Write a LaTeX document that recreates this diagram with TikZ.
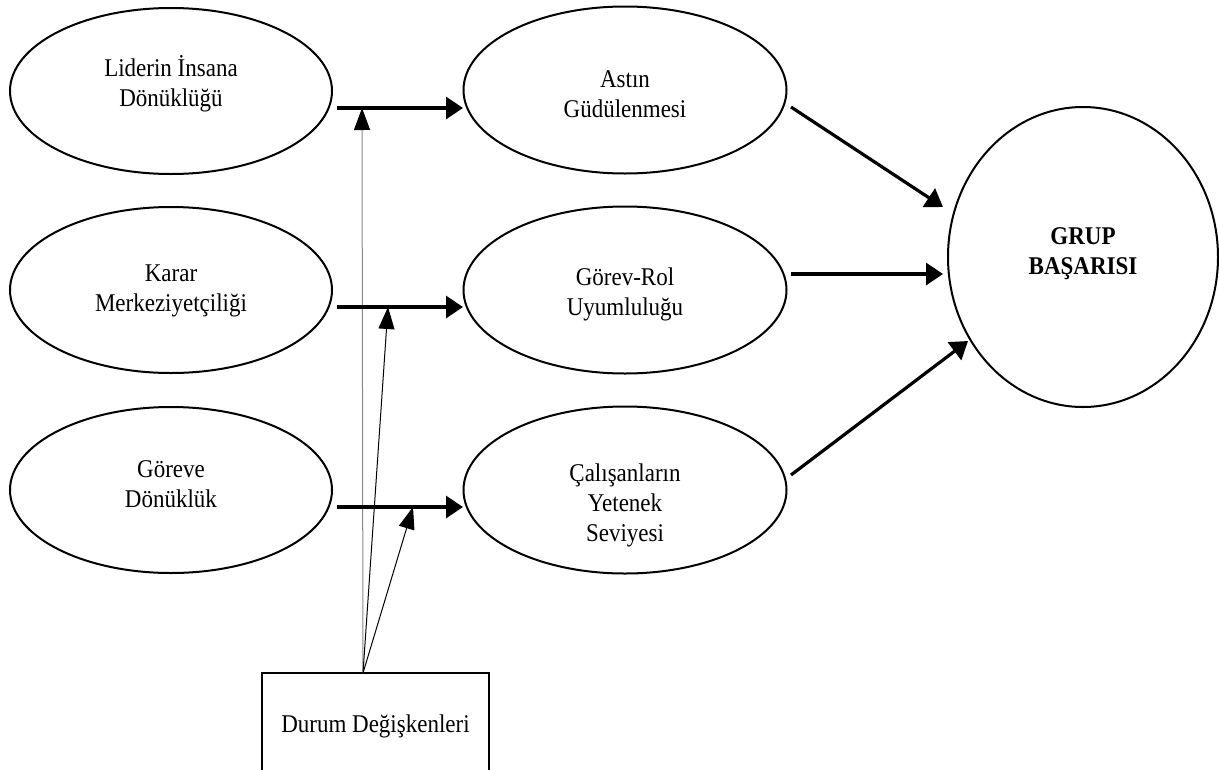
\documentclass[tikz,border=0pt]{standalone}
\usepackage{graphicx}
\usepackage{fontspec}
\setmainfont{Liberation Serif}
\usetikzlibrary{arrows.meta,shapes.geometric}
\newcommand\stxt[2][]{\scalebox{1}[1.11]{\parbox[c]{300pt}{\centering\fontsize{23}{27}\selectfont#1#2}}}
\newcommand\boxtxt[1]{\scalebox{1}[1.11]{\parbox[c]{215pt}{\centering\fontsize{23}{27}\selectfont#1}}}
\begin{document}
\begin{tikzpicture}[x=1pt,y=-1pt,
  ell/.style={draw,line width=2pt,ellipse,inner sep=0pt,minimum width=322pt,minimum height=166pt},
  txt/.style={inner sep=0pt},
  thickarrow/.style={line width=3.2pt,-{Triangle[length=17pt,width=22pt]}},
  thinarrow/.style={line width=1pt,-{Triangle[length=22pt,width=16pt,color=black]}}
]
\clip (0,0) rectangle (1219,769);
\useasboundingbox (0,0) rectangle (1219,769);

% left column
\node[ell] (L1) at (171,91) {};
\node[ell] (L2) at (171,290) {};
\node[ell] (L3) at (171,490) {};
\node[txt] (tL1) at (171,84) {\stxt{Liderin İnsana\\Dönüklüğü}};
\node[txt] (tL2) at (171,291) {\stxt{Karar\\Merkeziyetçiliği}};
\node[txt] (tL3) at (171,484) {\stxt{Göreve\\Dönüklük}};

% middle column
\node[ell,minimum width=323pt,minimum height=167pt] (M1) at (625,90) {};
\node[ell,minimum width=323pt,minimum height=167pt] (M2) at (625,290) {};
\node[ell,minimum width=323pt,minimum height=167pt] (M3) at (625,490) {};
\node[txt] (tM1) at (625,94) {\stxt{Astın\\Güdülenmesi}};
\node[txt] (tM2) at (625,294) {\stxt{Görev-Rol\\Uyumluluğu}};
\node[txt] (tM3) at (625,505) {\stxt{Çalışanların\\Yetenek\\Seviyesi}};

% right circle
\node[ell,minimum width=270pt,minimum height=300pt] (G) at (1083,257) {};
\node[txt] (tG) at (1083,254) {\stxt[\bfseries]{GRUP\\BAŞARISI}};

% box
\node[draw,line width=2pt,minimum width=227pt,minimum height=106pt,inner sep=0pt] (box) at (375.5,726) {\boxtxt{Durum Değişkenleri}};

% coordinates
\coordinate (s1) at (337,108);
\coordinate (e1) at (463,108);
\coordinate (s2) at (337,307);
\coordinate (e2) at (463,307);
\coordinate (s3) at (337,507);
\coordinate (e3) at (463,507);
\coordinate (apex) at (363,673);
\coordinate (m1) at (362,108);
\coordinate (m2) at (388,307);
\coordinate (m3) at (413,507);
\coordinate (r1s) at (791,107);
\coordinate (r1e) at (943,207);
\coordinate (r2s) at (791,274);
\coordinate (r2e) at (943,274);
\coordinate (r3s) at (791,475);
\coordinate (r3e) at (968,341);

% thin moderator arrows
\draw[thinarrow,draw={rgb,255:red,135;green,135;blue,135}] (apex) -- (m1);
\draw[thinarrow] (apex) -- (m2);
\draw[thinarrow] (apex) -- (m3);

% thick arrows
\draw[thickarrow] (s1) -- (e1);
\draw[thickarrow] (s2) -- (e2);
\draw[thickarrow] (s3) -- (e3);
\draw[thickarrow] (r1s) -- (r1e);
\draw[thickarrow] (r2s) -- (r2e);
\draw[thickarrow] (r3s) -- (r3e);
\end{tikzpicture}
\end{document}
